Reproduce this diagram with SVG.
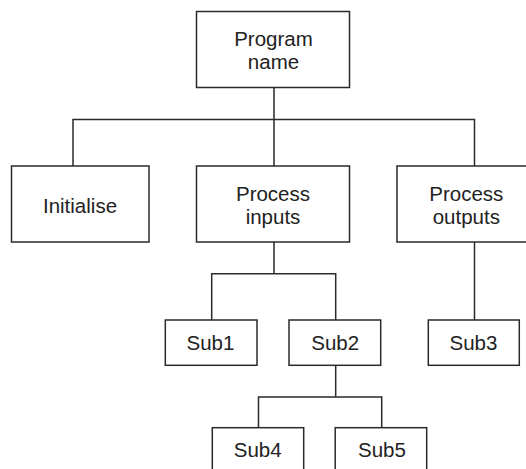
<svg xmlns="http://www.w3.org/2000/svg" width="526" height="469" viewBox="0 0 526 469">
<style>
.box{fill:#fff;stroke:#2a2a2a;stroke-width:1.5}
.lbl{font-family:"Liberation Sans",Arial,sans-serif;font-size:20.5px;fill:#222;text-anchor:middle}
.con{fill:none;stroke:#2a2a2a;stroke-width:1.5}
</style>
<rect width="526" height="469" fill="#fff"/>
<g id="connectors">
<path class="con" d="M274,87.5V119.5M73,166V119.5H474.5V166M274,119.5V166"/>
<path class="con" d="M274,242V273.7M211.7,320V273.7H335.7V320"/>
<path class="con" d="M474.5,242V320"/>
<path class="con" d="M335.7,365.3V397M258.5,427.7V397H381.7V427.7"/>
</g>
<g id="program-name">
<rect class="box" x="196.5" y="11.5" width="153" height="76"/>
<text class="lbl" x="273.5" y="45.5">Program</text>
<text class="lbl" x="273.5" y="68.5">name</text>
</g>
<g id="initialise">
<rect class="box" x="11.5" y="166" width="137.5" height="76"/>
<text class="lbl" x="80" y="213">Initialise</text>
</g>
<g id="process-inputs">
<rect class="box" x="196.5" y="166" width="153" height="76"/>
<text class="lbl" x="273" y="200.5">Process</text>
<text class="lbl" x="273" y="223.5">inputs</text>
</g>
<g id="process-outputs">
<rect class="box" x="397" y="166" width="160" height="76"/>
<text class="lbl" x="466.3" y="200.5">Process</text>
<text class="lbl" x="466.3" y="223.5">outputs</text>
</g>
<g id="sub1">
<rect class="box" x="165.3" y="320" width="91.7" height="45.3"/>
<text class="lbl" x="210.5" y="350">Sub1</text>
</g>
<g id="sub2">
<rect class="box" x="289" y="320" width="91.7" height="45.3"/>
<text class="lbl" x="335.2" y="350">Sub2</text>
</g>
<g id="sub3">
<rect class="box" x="428.3" y="320" width="91" height="45.3"/>
<text class="lbl" x="473.5" y="350">Sub3</text>
</g>
<g id="sub4">
<rect class="box" x="212.3" y="427.7" width="91.4" height="60"/>
<text class="lbl" x="257.7" y="456.7">Sub4</text>
</g>
<g id="sub5">
<rect class="box" x="335.2" y="427.7" width="91.5" height="60"/>
<text class="lbl" x="382" y="456.7">Sub5</text>
</g>
</svg>
